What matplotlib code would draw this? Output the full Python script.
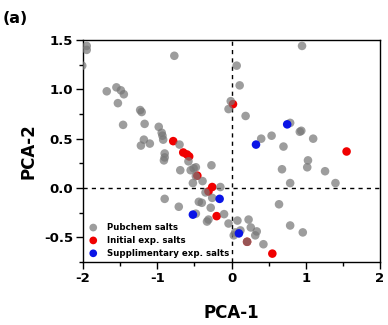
import matplotlib
matplotlib.use("Agg")
import matplotlib.pyplot as plt
from matplotlib.ticker import MultipleLocator, FuncFormatter

# ---- data ----
pub_x = [-1.95, -1.95, -2.01, -0.77, -1.68, -1.55, -1.49, -1.45, -1.53, -1.23,
         -1.21, -1.46, -1.17, -1.18, -1.22, -1.10, -0.98, -0.94, -0.93, -0.92,
         -0.90, -0.90, -0.91, -0.70, -0.58, -0.48, -0.69, -0.55, -0.51, -0.48,
         -0.52, -0.27, -0.39, -0.15, -0.01, -0.04, 0.19, -0.35, -0.90, -0.71,
         -0.44, -0.40, -0.26, -0.28, -0.48, -0.10, -0.33, -0.31, -0.04, 0.08,
         0.03, 0.05, 0.23, 0.26, 0.34, 0.32, 0.21, 0.43, 0.64, 0.79,
         0.96, 0.79, 0.94, 0.92, 1.10, 0.54, 0.40, 0.70, 1.03, 1.02,
         0.68, 1.26, 0.79, 1.40, 0.95, 0.07, 0.11, 0.12]
pub_y = [1.44, 1.40, 1.24, 1.34, 0.98, 1.02, 0.99, 0.95, 0.86, 0.79,
         0.77, 0.64, 0.65, 0.49, 0.43, 0.45, 0.62, 0.56, 0.53, 0.49,
         0.35, 0.31, 0.28, 0.44, 0.27, 0.21, 0.18, 0.18, 0.20, 0.12,
         0.05, 0.23, 0.07, 0.01, 0.88, 0.80, 0.73, -0.045, -0.11, -0.19,
         -0.14, -0.15, -0.10, -0.20, -0.26, -0.265, -0.34, -0.32, -0.36, -0.33,
         -0.48, -0.45, -0.32, -0.40, -0.44, -0.48, -0.545, -0.57, -0.165, -0.38,
         -0.45, 0.66, 0.58, 0.57, 0.50, 0.53, 0.50, 0.42, 0.28, 0.21,
         0.19, 0.17, 0.05, 0.05, 1.44, 1.24, 1.04, -0.43]

init_x = [-0.785, -0.65, -0.60, -0.57, -0.46, -0.26, -0.31, -0.20, 0.02, 1.55, 0.21, 0.55]
init_y = [0.475, 0.36, 0.34, 0.32, 0.125, 0.01, -0.035, -0.285, 0.85, 0.37, -0.545, -0.665]

supp_x = [-0.16, -0.52, 0.10, 0.33, 0.75]
supp_y = [-0.11, -0.27, -0.46, 0.44, 0.645]

labels = ["Pubchem salts", "Initial exp. salts", "Supplimentary exp. salts"]

# ---- figure ----
plt.rcParams['font.family'] = ['DejaVu Sans']
plt.rcParams['font.weight'] = 'bold'
fig = plt.figure(figsize=(3.88, 3.25), dpi=100)
ax = fig.add_axes([83/388, 1 - 262/325, (380-83)/388, (262-40)/325])

ms = 38
h_pub = ax.scatter(pub_x, pub_y, s=ms, c='#777777', alpha=0.72, edgecolors='none', zorder=3)
h_init = ax.scatter(init_x, init_y, s=ms, c='#f00000', edgecolors='none', zorder=2)
h_supp = ax.scatter(supp_x, supp_y, s=ms, c='#0a14e6', edgecolors='none', zorder=4)

ax.axhline(0, color='black', lw=1.0, ls=(0, (3, 3)), zorder=1)
ax.axvline(0, color='black', lw=1.0, ls=(0, (3, 3)), zorder=1)

ax.set_xlim(-2, 2)
ax.set_ylim(-0.75, 1.5)
ax.xaxis.set_major_locator(MultipleLocator(1))
ax.xaxis.set_minor_locator(MultipleLocator(0.5))
ax.yaxis.set_major_locator(MultipleLocator(0.5))
ax.yaxis.set_minor_locator(MultipleLocator(0.25))
ax.xaxis.set_major_formatter(FuncFormatter(lambda v, p: "0" if abs(v) < 1e-9 else f"{v:.0f}"))
ax.yaxis.set_major_formatter(FuncFormatter(lambda v, p: "0.0" if abs(v) < 1e-9 else f"{v:.1f}"))

ax.tick_params(which='major', direction='out', length=5, width=1.0, labelsize=9.5, pad=2)
ax.tick_params(which='minor', direction='out', length=3, width=1.0)
for lab in ax.get_xticklabels() + ax.get_yticklabels():
    lab.set_fontweight('bold')
for sp in ax.spines.values():
    sp.set_linewidth(1.0)

ax.set_xlabel("PCA-1", fontsize=12, fontweight='bold', labelpad=14)
ax.set_ylabel("PCA-2", fontsize=12, fontweight='bold', labelpad=5)

leg = ax.legend([h_pub, h_init, h_supp], labels, loc='lower left',
                bbox_to_anchor=(0.02, 0.02), frameon=False,
                borderpad=0, borderaxespad=0, handlelength=1.0,
                handletextpad=1.1, labelspacing=0.45, markerscale=0.9,
                prop={'weight': 'bold', 'size': 6.2})

fig.text(3/388, 1 - 23/325, "(a)", fontsize=11.5, fontweight='bold', ha='left', va='baseline')

fig.savefig("out.png", dpi=100)
